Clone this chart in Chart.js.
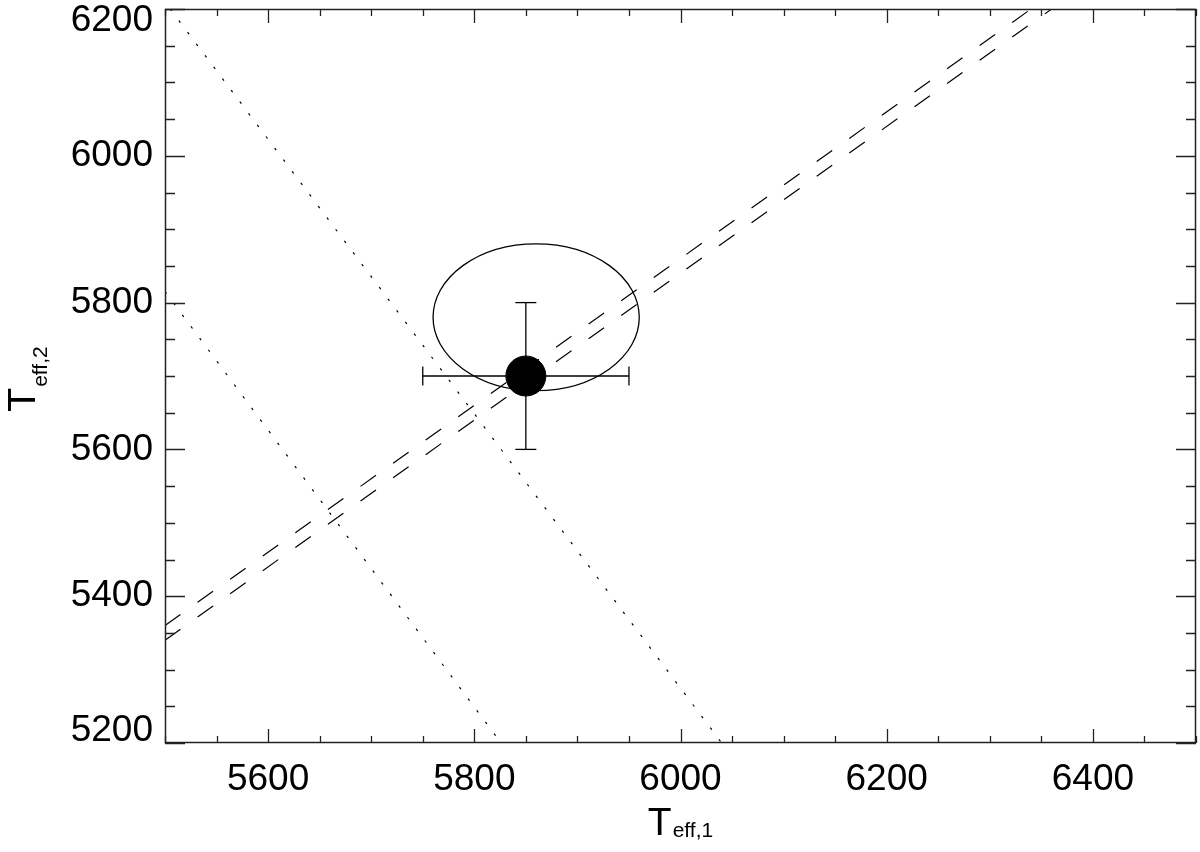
<!DOCTYPE html>
<html><head><meta charset="utf-8">
<script src="https://cdn.jsdelivr.net/npm/chart.js@4.4.1/dist/chart.umd.min.js"></script>
<style>html,body{margin:0;padding:0;background:#fff;overflow:hidden}canvas{display:block}</style>
</head><body><canvas id="c" width="1200" height="852" style="width:1200px;height:852px"></canvas>
<script>
// ---- data ----
const xRange = [5500, 6500];
const yRange = [5200, 6200];
const xTickValues = [5600, 5800, 6000, 6200, 6400];
const yTickValues = [5200, 5400, 5600, 5800, 6000, 6200];
const minorStep = 50;
const majorStep = 200;
const dottedLine1 = [{x: 5505, y: 6200}, {x: 6040, y: 5200}];
const dottedLine2 = [{x: 5500, y: 5815}, {x: 5826, y: 5200}];
const dashedLine1 = [{x: 5500, y: 5360}, {x: 6340, y: 6200}];
const dashedLine2 = [{x: 5500, y: 5340}, {x: 6360, y: 6200}];
const measuredPoint = [{x: 5850, y: 5700}];
const errX = [5750, 5950];
const errY = [5600, 5800];
const ellipseCenter = [5860, 5780];
const ellipseRadius = [100, 100];
const xTitle = ['T', 'eff,1'];
const yTitle = ['T', 'eff,2'];

const FONT = '"Liberation Sans", Arial, Helvetica, sans-serif';

const hBar = errX.map(v => ({x: v, y: measuredPoint[0].y}));
const vBar = errY.map(v => ({x: measuredPoint[0].x, y: v}));

const lineDs = (data, dash) => ({
  type: 'line', data, showLine: true, borderColor: '#000', borderWidth: 1.2,
  borderDash: dash, pointRadius: 0, fill: false, tension: 0
});

const noPad = s => { s.paddingTop = 0; s.paddingBottom = 0; s.paddingLeft = 0; s.paddingRight = 0; };

const overlay = {
  id: 'overlay',
  beforeDatasetsDraw(chart) {
    const {ctx, scales: {x, y}} = chart;
    const cx = x.getPixelForValue(ellipseCenter[0]);
    const cy = y.getPixelForValue(ellipseCenter[1]);
    const rx = Math.abs(x.getPixelForValue(ellipseCenter[0] + ellipseRadius[0]) - cx);
    const ry = Math.abs(y.getPixelForValue(ellipseCenter[1] + ellipseRadius[1]) - cy);
    ctx.save();
    ctx.beginPath();
    ctx.ellipse(cx, cy, rx, ry, 0, 0, 2 * Math.PI);
    ctx.lineWidth = 1.3; ctx.strokeStyle = '#000'; ctx.stroke();
    ctx.restore();
  },
  afterDraw(chart) {
    const {ctx, chartArea: a, scales: {x, y}} = chart;
    ctx.save();
    ctx.strokeStyle = '#222'; ctx.lineWidth = 1.5;
    ctx.strokeRect(a.left + 0.5, a.top + 0.5, a.right - a.left - 1, a.bottom - a.top - 1);
    ctx.lineWidth = 1.3; ctx.strokeStyle = '#222';
    ctx.beginPath();
    for (let v = xRange[0]; v <= xRange[1]; v += minorStep) {
      const px = Math.round(x.getPixelForValue(v)) + 0.5;
      const len = v % majorStep === 0 ? 14 : 7;
      ctx.moveTo(px, a.bottom); ctx.lineTo(px, a.bottom - len);
      ctx.moveTo(px, a.top); ctx.lineTo(px, a.top + len);
    }
    for (let v = yRange[0]; v <= yRange[1]; v += minorStep) {
      const py = Math.round(y.getPixelForValue(v)) + 0.5;
      const len = v % majorStep === 0 ? 20 : 10;
      ctx.moveTo(a.left, py); ctx.lineTo(a.left + len, py);
      ctx.moveTo(a.right, py); ctx.lineTo(a.right - len, py);
    }
    ctx.stroke();
    // axis titles
    ctx.fillStyle = '#000';
    ctx.textBaseline = 'alphabetic';
    const big = '39px ' + FONT, small = '21px ' + FONT;
    ctx.font = big; const wT = ctx.measureText(xTitle[0]).width;
    ctx.font = small; const wS = ctx.measureText(xTitle[1]).width;
    const cxm = (a.left + a.right) / 2;
    const x0 = cxm - (wT + wS + 1) / 2;
    const base = a.bottom + 92;
    ctx.font = big; ctx.fillText(xTitle[0], x0, base);
    ctx.font = small; ctx.fillText(xTitle[1], x0 + wT + 1, base + 2);
    // y title
    ctx.font = big; const wT2 = ctx.measureText(yTitle[0]).width;
    ctx.font = small; const wS2 = ctx.measureText(yTitle[1]).width;
    const cym = (a.top + a.bottom) / 2 + 3;
    ctx.translate(35, cym + (wT2 + wS2 + 1) / 2);
    ctx.rotate(-Math.PI / 2);
    ctx.font = big; ctx.fillText(yTitle[0], 0, 0);
    ctx.font = small; ctx.fillText(yTitle[1], wT2 + 1, 12);
    ctx.restore();
  }
};

new Chart(document.getElementById('c'), {
  type: 'scatter',
  data: {
    datasets: [
      lineDs(dottedLine1, [2.5, 12]),
      lineDs(dottedLine2, [2.5, 12]),
      lineDs(dashedLine1, [19, 21]),
      lineDs(dashedLine2, [19, 21]),
      { type: 'line', data: hBar, showLine: true, borderColor: '#000', borderWidth: 1.3,
        pointStyle: 'line', rotation: 90, pointRadius: 9.5, pointBorderWidth: 1.3,
        pointBorderColor: '#000', pointHoverRadius: 9.5 },
      { type: 'line', data: vBar, showLine: true, borderColor: '#000', borderWidth: 1.3,
        pointStyle: 'line', rotation: 0, pointRadius: 10.5, pointBorderWidth: 1.3,
        pointBorderColor: '#000', pointHoverRadius: 10.5 },
      { type: 'scatter', data: measuredPoint, pointRadius: 20, pointHoverRadius: 20,
        backgroundColor: '#000', borderColor: '#000', pointStyle: 'circle' }
    ]
  },
  options: {
    responsive: false, maintainAspectRatio: false, animation: false, devicePixelRatio: 1,
    events: [],
    layout: { autoPadding: false, padding: { top: 9, right: 4, left: 0, bottom: 0 } },
    plugins: { legend: { display: false }, tooltip: { enabled: false } },
    scales: {
      x: {
        type: 'linear', min: xRange[0], max: xRange[1],
        afterBuildTicks: s => { s.ticks = xTickValues.map(v => ({value: v})); },
        afterFit: s => { s.height = 109; noPad(s); },
        grid: { display: false, drawTicks: false }, border: { display: false },
        ticks: { color: '#000', padding: 15, maxRotation: 0, autoSkip: false,
                 font: { family: FONT, size: 37 },
                 callback: v => String(v) }
      },
      y: {
        type: 'linear', min: yRange[0], max: yRange[1],
        afterBuildTicks: s => { s.ticks = yTickValues.map(v => ({value: v})); },
        afterFit: s => { s.width = 165; noPad(s); },
        grid: { display: false, drawTicks: false }, border: { display: false },
        ticks: { color: '#000', padding: 12, autoSkip: false,
                 font: { family: FONT, size: 37, lineHeight: 0.66 },
                 callback: v => v === yRange[1] ? ['', String(v)] : (v === yRange[0] ? [String(v), ''] : String(v)) }
      }
    }
  },
  plugins: [overlay]
});
</script>
</body></html>
